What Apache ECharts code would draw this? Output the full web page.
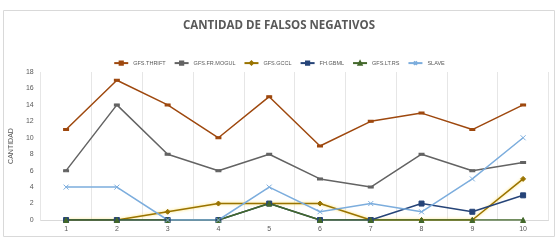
<!DOCTYPE html>
<html>
<head>
<meta charset="utf-8">
<script src="https://cdn.jsdelivr.net/npm/echarts@6/dist/echarts.min.js"></script>
<style>
html, body { margin: 0; padding: 0; background: #fff; }
#chart { width: 558px; height: 243px; }
</style>
</head>
<body>
<div id="chart"></div>
<script>
var categories = ['1', '2', '3', '4', '5', '6', '7', '8', '9', '10'];
var thrift = [11, 17, 14, 10, 15, 9, 12, 13, 11, 14];
var mogul = [6, 14, 8, 6, 8, 5, 4, 8, 6, 7];
var gccl = [0, 0, 1, 2, 2, 2, 0, 0, 0, 5];
var gbml = [0, 0, 0, 0, 2, 0, 0, 2, 1, 3];
var ltrs = [0, 0, 0, 0, 2, 0, 0, 0, 0, 0];
var slave = [4, 4, 0, 0, 4, 1, 2, 1, 5, 10];

var myChart = echarts.init(document.getElementById('chart'));

function line(name, data, color, symbol, size, glow) {
    return {
        name: name,
        type: 'line',
        data: data,
        symbol: symbol,
        symbolSize: size,
        showAllSymbol: true,
        lineStyle: { color: color, width: 1.5, shadowColor: glow || 'transparent', shadowBlur: glow ? 3 : 0 },
        itemStyle: { color: color, borderColor: color, borderWidth: 1 },
        emphasis: { disabled: true },
        animation: false
    };
}

var option = {
    graphic: [{
        type: 'rect',
        shape: { x: 3.5, y: 10.5, width: 551, height: 226 },
        style: { fill: 'none', stroke: '#d9d9d9', lineWidth: 1 },
        silent: true
    }],
    title: {
        text: 'CANTIDAD DE FALSOS NEGATIVOS',
        left: 'center',
        top: 15,
        textStyle: { color: '#595959', fontSize: 11.5, fontWeight: 'bold', fontFamily: 'Open Sans' }
    },
    legend: {
        top: 54,
        left: 'center',
        itemWidth: 14,
        itemHeight: 4,
        itemGap: 8,
        textStyle: { color: '#595959', fontSize: 5.5, fontFamily: 'Liberation Sans' },
        data: ['GFS.THRIFT', 'GFS.FR.MOGUL', 'GFS.GCCL', 'FH.GBML', 'GFS.LT.RS', 'SLAVE']
    },
    grid: { left: 37.5, right: 9.5, top: 72, bottom: 23 },
    xAxis: {
        type: 'category',
        data: categories,
        boundaryGap: true,
        axisLine: { lineStyle: { color: '#d9d9d9' } },
        axisTick: { show: false },
        axisLabel: { color: '#595959', fontSize: 7, margin: 6 },
        splitLine: { show: true, lineStyle: { color: '#e6e6e6' } }
    },
    yAxis: {
        type: 'value',
        min: 0,
        max: 18,
        interval: 2,
        name: 'CANTIDAD',
        nameLocation: 'middle',
        nameGap: 19,
        nameTextStyle: { color: '#595959', fontSize: 7 },
        axisLine: { show: false },
        axisTick: { show: false },
        axisLabel: { color: '#595959', fontSize: 7, margin: 7 },
        splitLine: { show: false }
    },
    series: [
        line('GFS.THRIFT', thrift, '#9e480e', 'rect', [4, 2]),
        line('GFS.FR.MOGUL', mogul, '#636363', 'rect', [4, 2]),
        line('GFS.GCCL', gccl, '#997300', 'diamond', 5, 'rgba(255,220,80,0.9)'),
        line('FH.GBML', gbml, '#264478', 'rect', 5),
        line('GFS.LT.RS', ltrs, '#43682b', 'triangle', 5),
        line('SLAVE', slave, '#7caddd', 'path://M0,0L10,10M10,0L0,10', 5)
    ]
};
option.series[5].itemStyle = { color: 'none', borderColor: '#7caddd', borderWidth: 1 };
myChart.setOption(option);
</script>
</body>
</html>
